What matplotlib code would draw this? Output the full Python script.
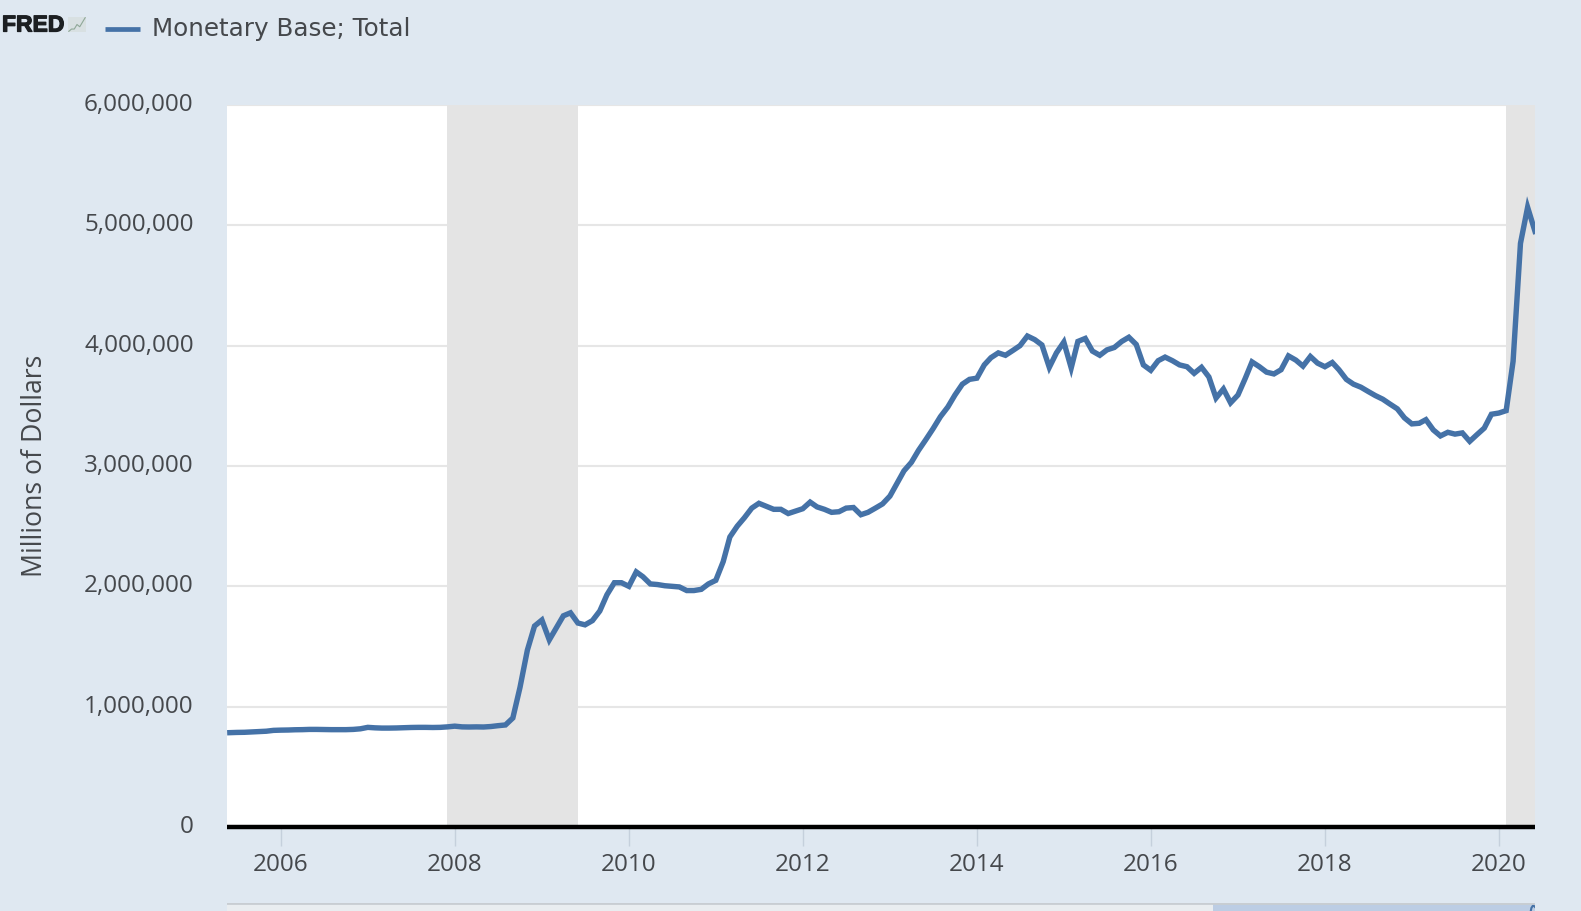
"""
Monetary Base; Total, FRED style line chart, monthly values read off the picture.
"""
import matplotlib
matplotlib.use("Agg")
import matplotlib.pyplot as plt
import matplotlib.dates as mdates
import matplotlib.patheffects as pe
from matplotlib.transforms import ScaledTranslation
import pandas as pd

plt.rcParams['font.family'] = ['Open Sans', 'DejaVu Sans']

# monthly values in millions of dollars, one list per stretch of the series
base_2005 = [784000, 786000, 787000, 790000, 792000, 796000, 803000]
base_2006 = [805000, 806000, 808000, 809000, 811000, 811000, 810000, 809000, 809000, 809000, 811000, 816000]
base_2007 = [828000, 824000, 822000, 822000, 823000, 825000, 827000, 828000, 828000, 827000, 828000, 832000]
base_2008 = [838000, 832000, 831000, 832000, 831000, 835000, 842000, 848000, 906000, 1160000, 1470000, 1670000]
base_2009 = [1720000, 1555000, 1650000, 1755000, 1780000, 1695000, 1680000, 1715000, 1795000, 1930000, 2030000, 2030000]
base_2010 = [2000000, 2120000, 2080000, 2020000, 2015000, 2005000, 2000000, 1995000, 1965000, 1965000, 1975000, 2020000]
base_2011 = [2050000, 2205000, 2410000, 2500000, 2570000, 2650000, 2690000, 2665000, 2640000, 2640000, 2605000, 2625000]
base_2012 = [2645000, 2700000, 2660000, 2640000, 2615000, 2620000, 2650000, 2655000, 2595000, 2615000, 2650000, 2685000]
base_2013 = [2750000, 2860000, 2960000, 3030000, 3130000, 3220000, 3310000, 3410000, 3490000, 3590000, 3680000, 3720000]
base_2014 = [3730000, 3840000, 3900000, 3940000, 3920000, 3960000, 4000000, 4080000, 4050000, 4006000, 3820000, 3940000]
base_2015 = [4030000, 3815000, 4035000, 4060000, 3955000, 3920000, 3965000, 3985000, 4035000, 4070000, 4010000, 3840000]
base_2016 = [3795000, 3875000, 3905000, 3875000, 3840000, 3825000, 3770000, 3820000, 3740000, 3565000, 3640000, 3525000]
base_2017 = [3590000, 3730000, 3865000, 3825000, 3780000, 3765000, 3800000, 3915000, 3880000, 3830000, 3910000, 3855000]
base_2018 = [3825000, 3860000, 3800000, 3720000, 3680000, 3655000, 3620000, 3585000, 3555000, 3515000, 3475000, 3400000]
base_2019 = [3350000, 3355000, 3385000, 3300000, 3250000, 3280000, 3265000, 3275000, 3205000, 3260000, 3315000, 3430000]
base_2020 = [3440000, 3460000, 3870000, 4850000, 5150000, 4950000]

values = (base_2005 + base_2006 + base_2007 + base_2008 + base_2009 + base_2010
          + base_2011 + base_2012 + base_2013 + base_2014 + base_2015 + base_2016
          + base_2017 + base_2018 + base_2019 + base_2020)
dates = pd.date_range("2005-06-01", periods=len(values), freq="MS")

recessions = [("2007-12-01", "2009-06-01"), ("2020-02-01", "2020-06-01")]
y_ticks = [0, 1000000, 2000000, 3000000, 4000000, 5000000, 6000000]
x_years = [2006, 2008, 2010, 2012, 2014, 2016, 2018, 2020]
series_name = "Monetary Base; Total"
y_title = "Millions of Dollars"
logo_text = "FRED"
logo_line_x = [0, 1, 2, 3, 4, 5, 6]
logo_line_y = [1, 2, 2, 4, 3, 5, 7]

W, H = 1581, 911
BG = "#dfe8f1"
LINE = "#4572a7"
TEXT = "#45484c"


def px_axes(fig, left, top, right, bottom):
    return fig.add_axes([left / W, 1 - bottom / H, (right - left) / W, (bottom - top) / H])


def main():
    fig = plt.figure(figsize=(W / 100, H / 100), dpi=100, facecolor=BG)

    # main panel
    ax = px_axes(fig, 227, 105, 1535, 827)
    ax.set_facecolor("white")
    ax.set_xlim(pd.Timestamp("2005-05-20"), pd.Timestamp("2020-06-01"))
    ax.set_ylim(0, 6000000)

    ax.grid(axis="y", color="#e6e6e6", lw=1.5, zorder=1)
    ax.set_axisbelow(True)
    for start, end in recessions:
        ax.axvspan(pd.Timestamp(start), pd.Timestamp(end), color="#e4e4e4", lw=0, zorder=2)
    ax.plot(dates, values, color=LINE, lw=3.9, solid_joinstyle="miter", zorder=3)

    for side in ["top", "left", "right"]:
        ax.spines[side].set_visible(False)
    ax.spines["bottom"].set_color("black")
    ax.spines["bottom"].set_linewidth(3.2)
    ax.spines["bottom"].set_capstyle("butt")
    ax.spines["bottom"].set_zorder(5)

    ax.set_yticks(y_ticks)
    ax.set_yticklabels([f"{v:,}" for v in y_ticks])
    ax.tick_params(axis="y", length=0, pad=24, labelsize=17.5, labelcolor=TEXT)
    # labels sit a little above their gridlines
    for label in ax.get_yticklabels():
        label.set_transform(label.get_transform() + ScaledTranslation(0, 3 / 100, fig.dpi_scale_trans))
    ax.set_xticks([pd.Timestamp(f"{y}-01-01") for y in x_years])
    ax.xaxis.set_major_formatter(mdates.DateFormatter("%Y"))
    ax.tick_params(axis="x", length=14, width=1, color="#c5d0dc", pad=5, labelsize=17.5, labelcolor=TEXT)

    fig.text(35 / W, 1 - 466 / H, y_title, rotation=90, ha="center", va="center",
             fontsize=19.2, color=TEXT)

    # header with logo and legend
    fig.text(2 / W, 1 - 25 / H, logo_text, ha="left", va="center", fontsize=16.5, fontweight="bold",
             color="#1c1f22", family=["Liberation Sans", "DejaVu Sans"],
             path_effects=[pe.withStroke(linewidth=0.9, foreground="#1c1f22")])
    icon = px_axes(fig, 68, 17, 86, 32)
    icon.set_facecolor("#d8e0e2")
    icon.plot(logo_line_x, logo_line_y, color="#8fa898", lw=0.8)
    icon.set_xticks([])
    icon.set_yticks([])
    for side in icon.spines:
        icon.spines[side].set_visible(False)
    fig.add_artist(plt.Line2D([105 / W, 140 / W], [1 - 29 / H, 1 - 29 / H], color=LINE, lw=3.4,
                              solid_capstyle="butt"))
    fig.text(152 / W, 1 - 29 / H, series_name, ha="left", va="center", fontsize=17.7, color=TEXT,
             family=["DejaVu Sans"])

    # range navigator, cut off by the lower edge of the picture
    nav = px_axes(fig, 227, 903, 1535, 951)
    nav.set_facecolor("#e9edf0")
    nav.set_xlim(pd.Timestamp("1959-06-01"), pd.Timestamp("2020-06-01"))
    nav.set_ylim(0, 5400000)
    nav.axvspan(dates[0], dates[-1], color="#bccde4", lw=0)
    nav.plot(dates, values, color=LINE, lw=1.5)
    nav.set_xticks([])
    nav.set_yticks([])
    for side in nav.spines:
        nav.spines[side].set_visible(False)
    nav.axhline(5400000, color="#c8cdd2", lw=2)

    fig.savefig("out.png", dpi=100, facecolor=BG)


if __name__ == "__main__":
    main()
